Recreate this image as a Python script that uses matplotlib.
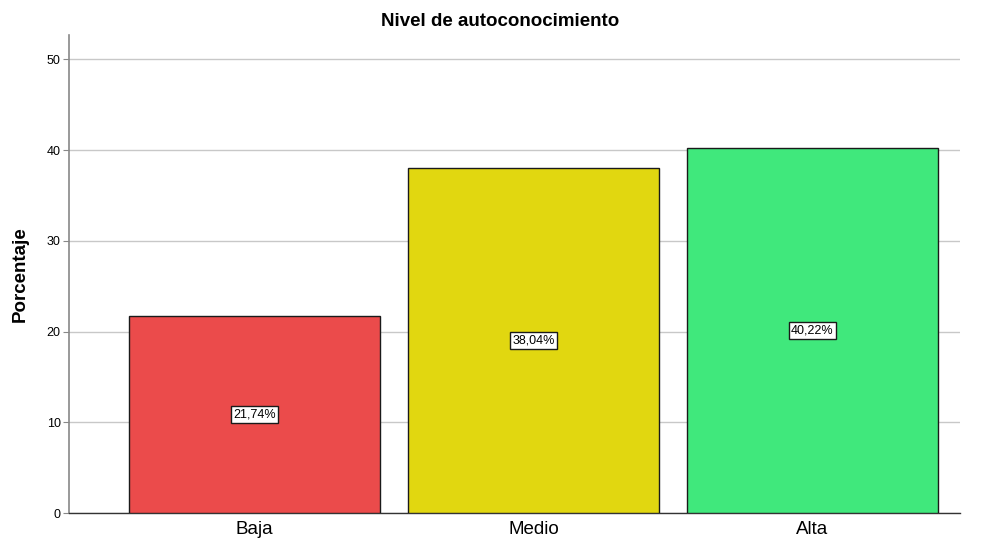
import matplotlib
matplotlib.use("Agg")
import matplotlib.pyplot as plt

plt.rcParams["font.family"] = ["Liberation Sans", "DejaVu Sans"]

categories = ["Baja", "Medio", "Alta"]
values = [21.74, 38.04, 40.22]
labels = ["21,74%", "38,04%", "40,22%"]
colors = ["#EB4B4B", "#E1D710", "#40E87C"]
yticks = [0, 10, 20, 30, 40, 50]

fig = plt.figure(figsize=(9.88, 5.43), dpi=100)
ax = fig.add_axes([69/988, 30/543, (960-69)/988, (513-35)/543])

x = list(range(len(categories)))
ax.bar(x, values, width=0.9, color=colors, edgecolor="#1a1a1a", linewidth=1.0, zorder=3)
for xi, v, lab in zip(x, values, labels):
    ax.text(xi, v / 2, lab, ha="center", va="center", fontsize=9, zorder=4,
            bbox=dict(boxstyle="square,pad=0.2", facecolor="white", edgecolor="#1a1a1a", linewidth=1.0))

ax.set_xlim(-0.665, 2.529)
ax.set_ylim(0, 52.7)
ax.set_yticks(yticks)
ax.set_yticklabels([str(t) for t in yticks], fontsize=9)
ax.set_xticks(x)
ax.set_xticklabels(categories, fontsize=13.5)
ax.tick_params(axis="x", length=0, pad=6)
ax.tick_params(axis="y", length=4, width=0.8, color="#888888", pad=2)
ax.yaxis.grid(True, color="#c8c8c8", linewidth=1.0, zorder=0)
ax.set_axisbelow(True)
for s in ["top", "right"]:
    ax.spines[s].set_visible(False)
ax.spines["left"].set_color("#888888")
ax.spines["left"].set_linewidth(1.2)
ax.spines["bottom"].set_color("#333333")
ax.spines["bottom"].set_linewidth(1.0)

ax.set_ylabel("Porcentaje", fontsize=13.5, fontweight="bold", labelpad=13)
fig.text(500/988, 1 - 21/543, "Nivel de autoconocimiento", ha="center", va="center",
         fontsize=13.5, fontweight="bold")

fig.savefig("out.png", dpi=100)
